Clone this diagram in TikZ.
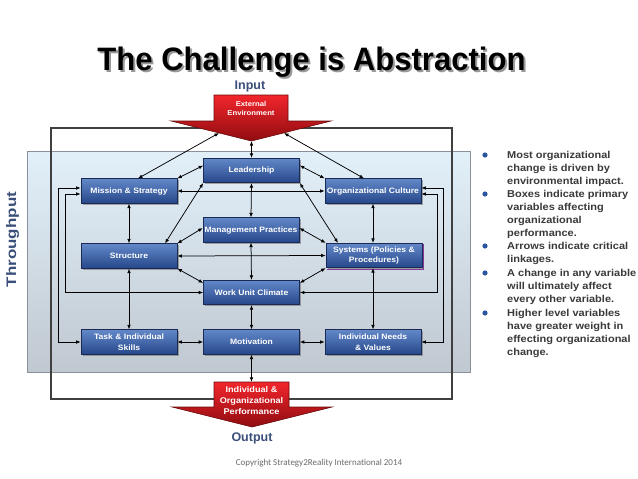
\documentclass[tikz,border=0pt]{standalone}
\usepackage{fontspec}
\setmainfont{Liberation Sans}
\newfontfamily\wide[FakeStretch=1.1]{Liberation Sans}
\newfontfamily\cali{Carlito}
\usetikzlibrary{arrows.meta,shadows,calc}
\definecolor{slate}{HTML}{3B4F7A}
\definecolor{boxtop}{HTML}{6288C8}
\definecolor{boxbot}{HTML}{26478A}
\definecolor{boxedge}{HTML}{1A2A55}
\definecolor{redtop}{HTML}{F2262C}
\definecolor{redbot}{HTML}{900C10}
\definecolor{rededge}{HTML}{6A0A0A}
\definecolor{paneltop}{HTML}{E2F0FA}
\definecolor{panelbot}{HTML}{C0C8D0}
\definecolor{panelbord}{HTML}{8A9098}
\definecolor{bulletc}{HTML}{2A55A0}
\definecolor{btext}{HTML}{3A3A3A}
\definecolor{purpleedge}{HTML}{8A3A9A}
\newcommand{\titletext}{\resizebox{428pt}{23.5pt}{\bfseries The Challenge is Abstraction}}
\begin{document}
\begin{tikzpicture}[x=1pt,y=-1pt,
  var/.style={draw=boxedge, line width=0.6pt, top color=boxtop, bottom color=boxbot,
    minimum width=96pt, minimum height=24.5pt, inner sep=1pt, text=white,
    font=\wide\fontsize{7.8}{10.5}\selectfont\bfseries, align=center,
    drop shadow={shadow xshift=1.6pt, shadow yshift=-1.6pt, fill=black!55, opacity=0.6}},
  conn/.style={{Latex[length=4.5pt,width=3.6pt]}-{Latex[length=4.5pt,width=3.6pt]}, line width=0.75pt, black},
  redarrow/.style={draw=rededge, line width=0.6pt, top color=redtop, bottom color=redbot},
  redtext/.style={text=white, align=center, inner sep=0pt},
  bul/.style={anchor=north west, inner sep=0pt, align=left, text=btext,
    font=\wide\fontsize{10}{13}\selectfont\bfseries},
  lbl/.style={text=slate, font=\bfseries\fontsize{12.5}{12.5}\selectfont}]
\useasboundingbox (0,0) rectangle (638,479);
\fill[white] (0,0) rectangle (638,479);

% title with its shadow in one text node
\node[anchor=base, inner sep=0] (title) at (311.5,70)
  {\rlap{\kern2pt\raisebox{-2pt}{\color{black!40}\titletext}}\titletext};

% panel and frame
\draw[draw=panelbord, line width=0.8pt, top color=paneltop, bottom color=panelbot] (27,151) rectangle (470,372);
\draw[line width=1.1pt, black!75] (51,128) rectangle (452,399);

% throughput
\node[rotate=90, anchor=base, text=slate, inner sep=0] (thr) at (16,239.5) {\resizebox{95pt}{10pt}{\bfseries Throughput}};

% input arrow
\node[lbl] (inp) at (250,86) {Input};
\path[redarrow] (214,95) -- (288,95) -- (288,121) -- (331,121) -- (251.5,141) -- (171,121) -- (214,121) -- cycle;
\node[redtext, font=\wide\fontsize{7}{9}\selectfont\bfseries] (env) at (251,108) {External\\Environment};
\coordinate (envtip) at (251.5,141);
\coordinate (envL) at (219,133);
\coordinate (envR) at (284,133);

% output arrow
\node[minimum width=75pt, minimum height=25pt, inner sep=0pt] (perf) at (251.5,394.5) {};
\path[redarrow] (214,382) -- (289,382) -- (289,407) -- (332,407) -- (252,427) -- (172,407) -- (214,407) -- cycle;
\node[redtext, font=\wide\fontsize{8.3}{11}\selectfont\bfseries] (perftxt) at (251.5,401) {Individual \&\\Organizational\\Performance};
\node[lbl] (outp) at (252,438) {Output};

% boxes
\node[var] (lead) at (251.5,170.5) {Leadership};
\node[var] (miss) at (129,191) {Mission \& Strategy};
\node[var] (cult) at (373,191) {Organizational Culture};
\node[var] (mgmt) at (251,230) {Management Practices};
\node[var] (struc) at (129,256) {Structure};
\node[var] (sys) at (374,255.5) {Systems (Policies \&\\Procedures)};
\node[var] (wuc) at (251.5,292.5) {Work Unit Climate};
\node[var] (task) at (129,342) {Task \& Individual\\Skills};
\node[var] (motiv) at (251.5,342) {Motivation};
\node[var] (needs) at (373,342) {Individual Needs\\\& Values};
\draw[purpleedge, line width=0.9pt] ($(sys.south west)+(1.5,1)$) -- ($(sys.south east)+(1,1)$) -- ($(sys.north east)+(1,1.5)$);

% connectors
\draw[conn] (envtip) -- (lead.north);
\draw[conn] (envL) -- ($(miss.north)+(9,0)$);
\draw[conn] (envR) -- ($(cult.north)+(-9,0)$);
\draw[conn] ($(lead.west)+(0,-5)$) -- (miss.north east);
\draw[conn] ($(lead.east)+(0,-5)$) -- (cult.north west);
\draw[conn] (miss.east) -- (cult.west);
\draw[conn] (lead.south west) -- ($(struc.north)+(36,0)$);
\draw[conn] (lead.south east) -- ($(sys.north)+(-36,0)$);
\draw[conn] (lead.south) -- (mgmt.north);
\draw[conn] (miss.south) -- (struc.north);
\draw[conn] (cult.south) -- ($(sys.north)+(-1,0)$);
\draw[conn] ($(mgmt.west)+(0,-2)$) -- (struc.north east);
\draw[conn] ($(mgmt.east)+(0,-2)$) -- (sys.north west);
\draw[conn] (struc.east) -- (sys.west);
\draw[conn] (mgmt.south) -- (wuc.north);
\draw[conn] (struc.south east) -- ($(wuc.north west)+(0,3)$);
\draw[conn] (sys.south west) -- ($(wuc.north east)+(0,3)$);
\draw[conn] (wuc.south) -- (motiv.north);
\draw[conn] (struc.south) -- (task.north);
\draw[conn] ($(sys.south)+(-1,0)$) -- (needs.north);
\draw[conn] (task.east) -- (motiv.west);
\draw[conn] (motiv.east) -- (needs.west);
\draw[conn] (motiv.south) -- (perf.north);
\draw[conn] ($(miss.west)+(0,-3)$) -- ++(-22,0) |- (task.west);
\draw[conn] ($(miss.west)+(0,3)$) -- ++(-15,0) |- (wuc.west);
\draw[conn] ($(cult.east)+(0,-3)$) -- ++(22,0) |- (needs.east);
\draw[conn] ($(cult.east)+(0,3)$) -- ++(16,0) |- (wuc.east);

% bullets
\foreach \yy in {155,194,246,273,313} \fill[bulletc] (485,\yy) circle (2.6pt);
\node[bul] (b1) at (507,151.3) {Most organizational\\change is driven by\\environmental impact.};
\node[bul] (b2) at (507,190.3) {Boxes indicate primary\\variables affecting\\organizational\\performance.};
\node[bul] (b3) at (507,242.3) {Arrows indicate critical\\linkages.};
\node[bul] (b4) at (507,269.3) {A change in any variable\\will ultimately affect\\every other variable.};
\node[bul] (b5) at (507,309.3) {Higher level variables\\have greater weight in\\effecting organizational\\change.};

% copyright
\node[font=\cali\fontsize{9}{9}\selectfont, text=black!58] (copy) at (319,463) {Copyright Strategy2Reality International 2014};
\end{tikzpicture}
\end{document}
